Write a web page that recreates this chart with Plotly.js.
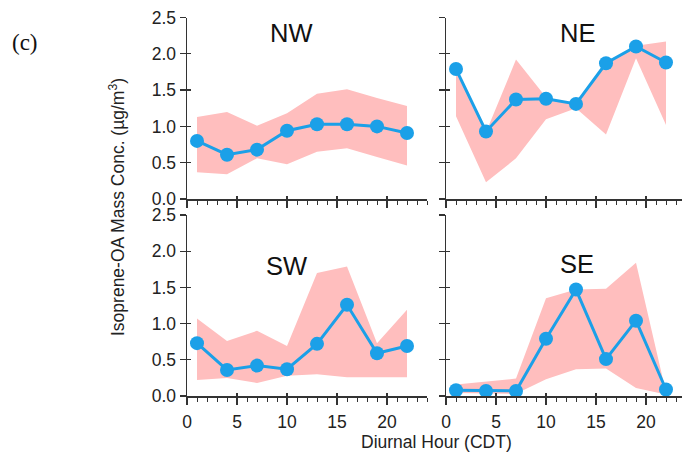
<!DOCTYPE html>
<html>
<head>
<meta charset="utf-8">
<script src="https://cdn.plot.ly/plotly-3.0.1.min.js"></script>
<style>html,body{margin:0;padding:0;background:#fff;}#chart{width:682px;height:453px;}</style>
</head>
<body>
<div id="chart"></div>
<script>
const hours = [1, 4, 7, 10, 13, 16, 19, 22];
const nwMean  = [0.80, 0.61, 0.68, 0.94, 1.03, 1.03, 1.00, 0.91];
const nwUpper = [1.13, 1.20, 1.01, 1.18, 1.45, 1.51, 1.39, 1.28];
const nwLower = [0.37, 0.34, 0.56, 0.48, 0.65, 0.70, 0.58, 0.46];
const neMean  = [1.79, 0.93, 1.37, 1.38, 1.31, 1.87, 2.10, 1.88];
const neUpper = [1.78, 0.92, 1.92, 1.40, 1.30, 1.86, 2.11, 2.17];
const neLower = [1.14, 0.23, 0.56, 1.10, 1.25, 0.89, 1.94, 1.02];
const swMean  = [0.73, 0.36, 0.42, 0.37, 0.72, 1.26, 0.59, 0.69];
const swUpper = [1.07, 0.76, 0.90, 0.69, 1.70, 1.79, 0.73, 1.19];
const swLower = [0.22, 0.25, 0.18, 0.28, 0.30, 0.26, 0.26, 0.26];
const seMean  = [0.08, 0.07, 0.07, 0.79, 1.47, 0.51, 1.04, 0.09];
const seUpper = [0.16, 0.20, 0.24, 1.35, 1.47, 1.48, 1.84, 0.05];
const seLower = [0.04, 0.04, 0.03, 0.23, 0.37, 0.38, 0.11, 0.02];
const panelNames = ['NW', 'NE', 'SW', 'SE'];

const blue = 'rgb(27,160,232)';
const pink = 'rgb(255,190,190)';
const panels = [
  {mean: nwMean, up: nwUpper, lo: nwLower, xa: 'x', ya: 'y'},
  {mean: neMean, up: neUpper, lo: neLower, xa: 'x2', ya: 'y2'},
  {mean: swMean, up: swUpper, lo: swLower, xa: 'x3', ya: 'y3'},
  {mean: seMean, up: seUpper, lo: seLower, xa: 'x4', ya: 'y4'}
];
const traces = [];
panels.forEach((p, i) => {
  traces.push({x: hours, y: p.lo, xaxis: p.xa, yaxis: p.ya, mode: 'lines', line: {width: 0, color: pink}, hoverinfo: 'skip', showlegend: false});
  traces.push({x: hours, y: p.up, xaxis: p.xa, yaxis: p.ya, mode: 'lines', fill: 'tonexty', fillcolor: pink, line: {width: 0, color: pink}, hoverinfo: 'skip', showlegend: false});
  traces.push({x: hours, y: p.mean, xaxis: p.xa, yaxis: p.ya, mode: 'lines+markers', line: {width: 3, color: blue}, marker: {size: 14, color: blue}, showlegend: false});
  // empty helper traces so the overlay (inner tick) axes get drawn
  traces.push({x: [], y: [], xaxis: p.xa, yaxis: 'y' + (i + 5), mode: 'lines', showlegend: false, hoverinfo: 'skip'});
  traces.push({x: [], y: [], xaxis: 'x' + (i + 5), yaxis: p.ya, mode: 'lines', showlegend: false, hoverinfo: 'skip'});
});

const W = 682, H = 453;
const fontFam = 'Liberation Sans, Arial, sans-serif';
const axColor = '#333';
function xax(px0, px1, range, labels) {
  return {
    domain: [px0 / W, px1 / W], range: range, showgrid: false, zeroline: false,
    showline: true, linecolor: axColor, linewidth: 1.5,
    ticks: 'outside', ticklen: 7, tickwidth: 1.3, tickcolor: axColor,
    tick0: 0, dtick: 5, showticklabels: labels, ticklabelstandoff: 2,
    tickfont: {family: fontFam, size: 17.5, color: '#222'},
    minor: {dtick: 1, ticks: 'outside', ticklen: 4, tickwidth: 1, tickcolor: axColor},
    fixedrange: true
  };
}
function xin(px0, px1, range, base) {
  return {
    domain: [px0 / W, px1 / W], range: range, overlaying: base, anchor: base.replace('x', 'y'),
    showgrid: false, zeroline: false, showline: false,
    ticks: 'inside', ticklen: 3, tickwidth: 1.3, tickcolor: axColor,
    tick0: 0, dtick: 5, showticklabels: false, fixedrange: true
  };
}
function yax(top, bot, labels, anchor) {
  return {
    domain: [1 - bot / H, 1 - top / H], range: [0, 2.5], showgrid: false, zeroline: false,
    showline: true, linecolor: axColor, linewidth: 1.5,
    ticks: 'outside', ticklen: 6, tickwidth: 1.3, tickcolor: axColor,
    tick0: 0, dtick: 0.5, tickformat: '.1f', showticklabels: labels,
    tickfont: {family: fontFam, size: 17.5, color: '#222'},
    anchor: anchor, fixedrange: true
  };
}
function yin(top, bot, base, anchor) {
  return {
    domain: [1 - bot / H, 1 - top / H], range: [0, 2.5], overlaying: base, anchor: anchor,
    showgrid: false, zeroline: false, showline: false,
    ticks: 'inside', ticklen: 4, tickwidth: 1.3, tickcolor: axColor,
    tick0: 0, dtick: 0.5, showticklabels: false, fixedrange: true
  };
}
const lx0 = 187, lx1 = 427, rx0 = 446, rx1 = 682;
const tTop = 17.5, tBot = 199, bTop = 215, bBot = 396;
function ann(text, px, py, font, extra) {
  return Object.assign({text: text, xref: 'paper', yref: 'paper', x: px / W, y: 1 - py / H,
    xanchor: 'center', yanchor: 'middle', showarrow: false, font: font}, extra || {});
}
const panelFont = {family: fontFam, size: 25.5, color: '#111'};
const titleFont = {family: fontFam, size: 17.5, color: '#222'};
const layout = {
  width: W, height: H, margin: {l: 0, r: 0, t: 0, b: 0},
  paper_bgcolor: '#fff', plot_bgcolor: 'rgba(0,0,0,0)',
  xaxis: Object.assign(xax(lx0, lx1, [0, 24], false), {anchor: 'y'}),
  xaxis2: Object.assign(xax(rx0, rx1, [0, 23.6], false), {anchor: 'y2'}),
  xaxis3: Object.assign(xax(lx0, lx1, [0, 24], true), {anchor: 'y3'}),
  xaxis4: Object.assign(xax(rx0, rx1, [0, 23.6], true), {anchor: 'y4'}),
  yaxis: yax(tTop, tBot, true, 'x'),
  yaxis2: yax(tTop, tBot, false, 'x2'),
  yaxis3: yax(bTop, bBot, true, 'x3'),
  yaxis4: yax(bTop, bBot, false, 'x4'),
  xaxis5: xin(lx0, lx1, [0, 24], 'x'),
  xaxis6: xin(rx0, rx1, [0, 23.6], 'x2'),
  xaxis7: xin(lx0, lx1, [0, 24], 'x3'),
  xaxis8: xin(rx0, rx1, [0, 23.6], 'x4'),
  yaxis5: yin(tTop, tBot, 'y', 'x'),
  yaxis6: yin(tTop, tBot, 'y2', 'x2'),
  yaxis7: yin(bTop, bBot, 'y3', 'x3'),
  yaxis8: yin(bTop, bBot, 'y4', 'x4'),
  annotations: [
    ann(panelNames[0], 291, 33, panelFont),
    ann(panelNames[1], 577, 33, panelFont),
    ann(panelNames[2], 286, 266, panelFont),
    ann(panelNames[3], 577, 264, panelFont),
    ann('Diurnal Hour (CDT)', 436, 442, titleFont),
    ann('Isoprene-OA Mass Conc. (µg/m<sup>3</sup>)', 117, 207, titleFont, {textangle: -90}),
    ann('(c)', 25, 42, {family: 'Liberation Serif, Times New Roman, serif', size: 23, color: '#111'})
  ]
};
Plotly.newPlot('chart', traces, layout, {displayModeBar: false, staticPlot: true});
</script>
</body>
</html>
